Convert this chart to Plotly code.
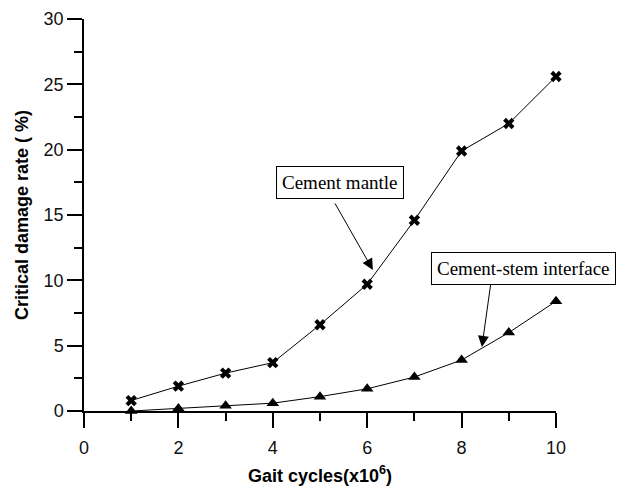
import plotly.graph_objects as go

cycles = [1, 2, 3, 4, 5, 6, 7, 8, 9, 10]
mantle = [0.8, 1.9, 2.9, 3.7, 6.6, 9.7, 14.6, 19.9, 22.0, 25.6]
interface = [0.0, 0.2, 0.4, 0.6, 1.1, 1.7, 2.6, 3.9, 6.0, 8.4]

fig = go.Figure()
fig.add_trace(go.Scatter(x=cycles, y=mantle, mode="lines+markers",
                         line=dict(color="black", width=1),
                         marker=dict(symbol="x", size=10, color="black"),
                         cliponaxis=False, showlegend=False))
fig.add_trace(go.Scatter(x=cycles, y=interface, mode="lines+markers",
                         line=dict(color="black", width=1),
                         marker=dict(symbol="triangle-up", size=11, color="black"),
                         cliponaxis=False, showlegend=False))

tickfont = dict(family="Liberation Sans, Arial", size=18, color="#111")
titlefont = dict(family="Liberation Sans, Arial", size=18, color="black", weight="bold")

fig.update_xaxes(range=[0, 10], dtick=2, tick0=0, showgrid=False, zeroline=False,
                 showline=True, linecolor="black", linewidth=1.5, automargin=False,
                 ticks="outside", ticklen=15, tickwidth=1.5, tickcolor="black",
                 ticklabelstandoff=5,
                 minor=dict(ticks="outside", ticklen=8, dtick=1, tickwidth=1.5, tickcolor="black", showgrid=False),
                 tickfont=tickfont,
                 title=dict(text="<b>Gait cycles(x10<sup>6</sup>)</b>", font=titlefont, standoff=17))
fig.update_yaxes(range=[0, 30], dtick=5, tick0=0, showgrid=False, zeroline=False,
                 showline=True, linecolor="black", linewidth=1.5, automargin=False,
                 ticks="outside", ticklen=15, tickwidth=1.5, tickcolor="black",
                 minor=dict(ticks="outside", ticklen=8, dtick=2.5, tickwidth=1.5, tickcolor="black", showgrid=False),
                 tickfont=tickfont,
                 title=dict(text="<b>Critical damage rate ( %)</b>", font=titlefont, standoff=10))

afont = dict(family="Liberation Serif, Times New Roman", size=19, color="black")
# label boxes
fig.add_annotation(x=5.42, y=17.5, xref="x", yref="y", text="Cement mantle", showarrow=False,
                   font=afont, bordercolor="black", borderwidth=1, borderpad=5, bgcolor="white")
fig.add_annotation(x=9.31, y=10.94, xref="x", yref="y", text="Cement-stem interface", showarrow=False,
                   font=afont, bordercolor="black", borderwidth=1, borderpad=5, bgcolor="white")
# arrows
fig.add_annotation(x=6.12, y=10.8, ax=5.30, ay=16.0, xref="x", yref="y", axref="x", ayref="y",
                   text="", showarrow=True, arrowhead=2, arrowsize=2.2, arrowwidth=1, arrowcolor="black")
fig.add_annotation(x=8.43, y=4.9, ax=8.62, ay=9.8, xref="x", yref="y", axref="x", ayref="y",
                   text="", showarrow=True, arrowhead=2, arrowsize=2.2, arrowwidth=1, arrowcolor="black")

fig.update_layout(width=617, height=486, plot_bgcolor="white", paper_bgcolor="white",
                  margin=dict(l=84, r=61, t=19, b=75))
fig.write_html("out.html")
